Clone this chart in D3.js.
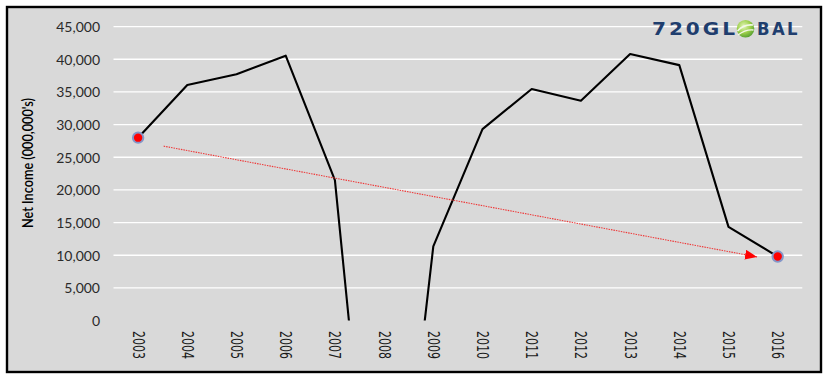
<!DOCTYPE html>
<html>
<head>
<meta charset="utf-8">
<script src="https://cdn.jsdelivr.net/npm/d3@7"></script>
<style>
  html, body { margin: 0; padding: 0; background: #ffffff; }
  svg { display: block; }
</style>
</head>
<body>
<svg id="chart" width="834" height="381"></svg>
<script>
// ---- data ----
const years = ["2003","2004","2005","2006","2007","2008","2009","2010","2011","2012","2013","2014","2015","2016"];
const netIncome = [28000, 36050, 37700, 40550, 21500, -54000, 11350, 29300, 35450, 33650, 40800, 39100, 14350, 9800];
const yTicks = [0, 5000, 10000, 15000, 20000, 25000, 30000, 35000, 40000, 45000];
const highlightYears = ["2003", "2016"];
const trendIndex = [0.52, 12.58];      // position along the year axis (0 = 2003)
const trendValues = [26700, 9750];
const yTitle = "Net Income (000,000's)";

// ---- layout ----
const svg = d3.select("#chart");
const plot = { left: 113.5, right: 802.3, top: 26.6, bottom: 320.6 };

const x = d3.scaleBand().domain(years).range([plot.left, plot.right]).paddingInner(0).paddingOuter(0);
const cx = d => x(d) + x.bandwidth() / 2;
const y = d3.scaleLinear().domain([0, 45000]).range([plot.bottom, plot.top]);
const xi = d3.scaleLinear().domain([0, years.length - 1]).range([cx(years[0]), cx(years[years.length - 1])]);

// frame + background
svg.append("rect").attr("x", 7).attr("y", 7).attr("width", 814).attr("height", 365)
  .attr("fill", "#d9d9d9").attr("stroke", "#000").attr("stroke-width", 2.4);

// defs
const defs = svg.append("defs");
defs.append("clipPath").attr("id", "plotclip").append("rect")
  .attr("x", plot.left - 5).attr("y", 0).attr("width", plot.right - plot.left + 10).attr("height", plot.bottom);
defs.append("marker").attr("id", "arrow").attr("viewBox", "0 0 12 10")
  .attr("refX", 12).attr("refY", 5).attr("markerWidth", 12).attr("markerHeight", 10)
  .attr("markerUnits", "userSpaceOnUse").attr("orient", "auto")
  .append("path").attr("d", "M0,0 L12,5 L0,10 Z").attr("fill", "#ff0000");
const grad = defs.append("radialGradient").attr("id", "globe").attr("cx", "40%").attr("cy", "35%").attr("r", "70%");
grad.append("stop").attr("offset", "0%").attr("stop-color", "#e2f4b8");
grad.append("stop").attr("offset", "55%").attr("stop-color", "#9ccf4a");
grad.append("stop").attr("offset", "100%").attr("stop-color", "#4f9a2e");

// gridlines (skip 0)
svg.append("g").selectAll("line").data(yTicks.filter(t => t > 0)).join("line")
  .attr("x1", plot.left).attr("x2", plot.right)
  .attr("y1", d => y(d)).attr("y2", d => y(d))
  .attr("stroke", "#ffffff").attr("stroke-width", 1.3);

// y axis labels
const yAxis = d3.axisLeft(y).tickValues(yTicks).tickSize(0).tickPadding(0).tickFormat(d3.format(","));
const yg = svg.append("g").attr("transform", `translate(100,0)`).call(yAxis);
yg.select(".domain").remove();
yg.selectAll("text").attr("font-family", "Lato, 'Open Sans', sans-serif").attr("font-size", 14)
  .attr("fill", "#2a2a2a").attr("dy", "0.35em");

// x axis labels
const xAxis = d3.axisBottom(x).tickSize(0).tickPadding(0);
const xg = svg.append("g").attr("transform", `translate(0,331)`).call(xAxis);
xg.select(".domain").remove();
xg.selectAll("text")
  .attr("font-family", "'DejaVu Sans', Verdana, sans-serif").attr("font-size", 15.5)
  .attr("fill", "#1a1a1a")
  .attr("text-anchor", "start")
  .attr("textLength", 28).attr("lengthAdjust", "spacingAndGlyphs")
  .attr("transform", "rotate(90)").attr("x", 0).attr("y", 0).attr("dy", "0.36em");

// y title
svg.append("text")
  .attr("transform", "translate(32.5,163) rotate(-90)")
  .attr("text-anchor", "middle")
  .attr("font-family", "Lato, 'Open Sans', sans-serif").attr("font-size", 15)
  .attr("font-weight", 600)
  .attr("textLength", 130).attr("lengthAdjust", "spacingAndGlyphs")
  .attr("fill", "#000").text(yTitle);

// main line
const line = d3.line().x((d, i) => cx(years[i])).y(d => y(d));
svg.append("path").datum(netIncome).attr("clip-path", "url(#plotclip)")
  .attr("d", line).attr("fill", "none").attr("stroke", "#000").attr("stroke-width", 2.1)
  .attr("stroke-linejoin", "round");

// trend arrow
svg.append("line")
  .attr("x1", xi(trendIndex[0])).attr("y1", y(trendValues[0]))
  .attr("x2", xi(trendIndex[1])).attr("y2", y(trendValues[1]))
  .attr("stroke", "#ee3a3a").attr("stroke-width", 1.1).attr("stroke-dasharray", "1.5,1")
  .attr("marker-end", "url(#arrow)");

// highlighted points
svg.append("g").selectAll("circle").data(highlightYears).join("circle")
  .attr("cx", d => cx(d)).attr("cy", d => y(netIncome[years.indexOf(d)]))
  .attr("r", 5.2).attr("fill", "#ff0000").attr("stroke", "#8496c8").attr("stroke-width", 2);

// logo
const logo = svg.append("g").attr("font-family", "'DejaVu Sans', sans-serif")
  .attr("font-weight", 700).attr("font-size", 17).attr("fill", "#1f3e6e");
logo.append("text").attr("x", 652).attr("y", 35.2).attr("letter-spacing", 2.5)
  .attr("textLength", 86).attr("lengthAdjust", "spacingAndGlyphs").text("720GL");
logo.append("circle").attr("cx", 745.5).attr("cy", 28.8).attr("r", 8.8).attr("fill", "url(#globe)");
logo.append("path").attr("d", "M737.5,31 Q744,24 753,25").attr("fill", "none").attr("stroke", "#f2f8e6").attr("stroke-width", 1.6);
logo.append("path").attr("d", "M738,35 Q746,29 753.5,30").attr("fill", "none").attr("stroke", "#f2f8e6").attr("stroke-width", 1.4);
logo.append("text").attr("x", 757).attr("y", 35.2).attr("letter-spacing", 2.5)
  .attr("textLength", 43).attr("lengthAdjust", "spacingAndGlyphs").text("BAL");
</script>
</body>
</html>
